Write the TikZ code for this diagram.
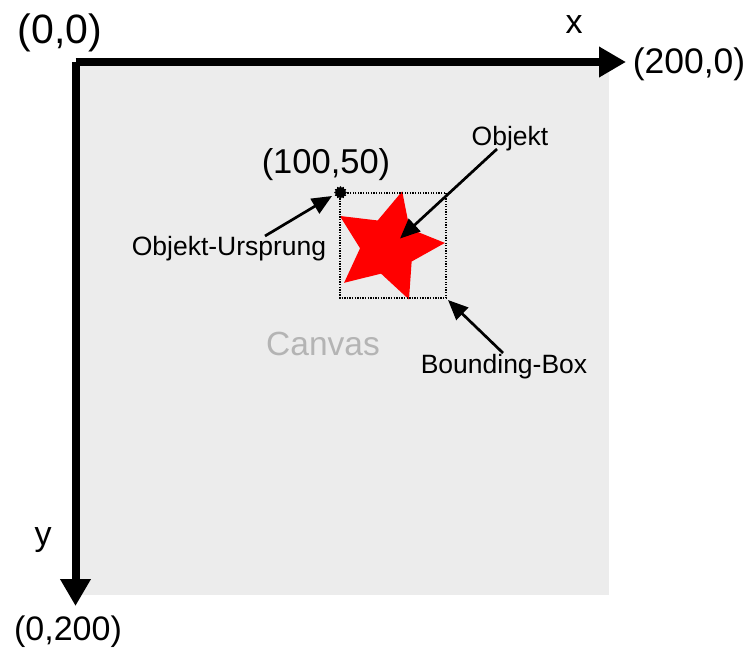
\documentclass[tikz,border=0pt]{standalone}
\usepackage{fontspec}
\setmainfont{Liberation Sans}
\usetikzlibrary{arrows.meta,calc}
\definecolor{canvasgray}{HTML}{ECECEC}
\definecolor{canvastext}{HTML}{B4B4B4}
\definecolor{starred}{HTML}{FF0000}
\tikzset{
  axis/.style={line width=8pt, line cap=square, -{Triangle[length=27pt,width=29pt]}},
  pointer/.style={line width=2.7pt, -{Triangle[length=20pt,width=17pt]}},
  biglabel/.style={inner sep=0pt, anchor=base, font=\fontsize{34}{40}\selectfont},
  smalllabel/.style={inner sep=0pt, anchor=base, font=\fontsize{26.5}{32}\selectfont},
  bbox/.style={line width=1.6pt, dash pattern=on 1.3pt off 1.3pt},
}
\begin{document}
\begin{tikzpicture}[x=1pt,y=-1pt]
  \useasboundingbox (0,0) rectangle (746,648);
  \fill[white] (0,0) rectangle (746,648);

  % canvas area
  \fill[canvasgray] (75.5,62) rectangle (609,595);

  % coordinate axes
  \coordinate (origin) at (75.5,62);
  \coordinate (xend) at (626,62);
  \coordinate (yend) at (75.5,606);
  \draw[axis] (origin) -- (xend);
  \draw[axis] (origin) -- (yend);

  % axis labels
  \node[biglabel, font=\fontsize{41}{48}\selectfont] (l00) at (60,43) {(0,0)};
  \node[biglabel] (lx) at (574,33) {x};
  \node[biglabel, font=\fontsize{35.5}{42}\selectfont] (l2000) at (689,73) {(200,0)};
  \node[biglabel] (ly) at (43,545) {y};
  \node[biglabel] (l0200) at (68,640) {(0,200)};

  % the object: a red star
  \coordinate (starc) at (388,246.5);
  \fill[starred] ($(starc)+(-75.6:57)$)
    \foreach \k in {0,...,4} {
      -- ($(starc)+({-(111.6+72*\k)}:28)$) -- ($(starc)+({-(147.6+72*\k)}:57)$)
    } -- cycle;

  % bounding box of the object
  \draw[bbox] (340,193) rectangle (446,298);

  % object origin marker
  \coordinate (objorigin) at (340.5,192.5);
  \fill[black] ($(objorigin)+(0:6.5)$)
    \foreach \k in {0,...,11} {
      -- ($(objorigin)+({30*\k+15}:5)$) -- ($(objorigin)+({30*\k+30}:6.5)$)
    } -- cycle;
  \node[biglabel, font=\fontsize{34.5}{40}\selectfont] (l10050) at (326,173) {(100,50)};

  % labels with pointers
  \node[smalllabel] (lobj) at (510,145) {Objekt};
  \node[smalllabel] (lorig) at (229,255) {Objekt-Ursprung};
  \node[smalllabel] (lbox) at (504,373) {Bounding-Box};
  \node[biglabel, text=canvastext, font=\fontsize{33.5}{38}\selectfont] (lcanvas) at (323,355) {Canvas};

  \coordinate (objtip) at (400,238.5);
  \coordinate (origtip) at (332,196);
  \coordinate (boxtip) at (448,300);
  \coordinate (objstart) at (497,149);
  \coordinate (origstart) at (265,236);
  \coordinate (boxstart) at (503,353);
  \draw[pointer] (objstart) -- (objtip);
  \draw[pointer] (origstart) -- (origtip);
  \draw[pointer] (boxstart) -- (boxtip);
\end{tikzpicture}
\end{document}
